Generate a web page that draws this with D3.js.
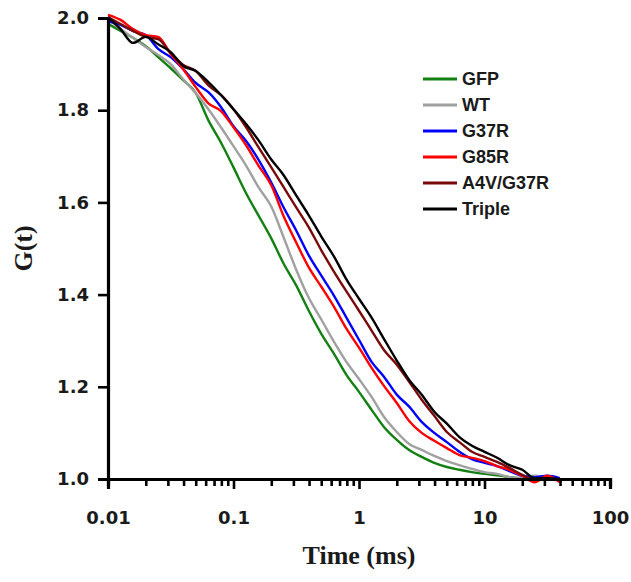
<!DOCTYPE html>
<html>
<head>
<meta charset="utf-8">
<script src="https://cdn.jsdelivr.net/npm/d3@7/dist/d3.min.js"></script>
<style>
  html, body { margin: 0; padding: 0; background: #fff; }
  svg { display: block; }
</style>
</head>
<body>
<svg id="chart" width="631" height="582"></svg>
<script>
// ---- Data ----
const times = [0.01, 0.0126, 0.0158, 0.02, 0.0251, 0.0316, 0.0398, 0.0501, 0.0631, 0.0794,
  0.1, 0.126, 0.158, 0.2, 0.251, 0.316, 0.398, 0.501, 0.631, 0.794,
  1, 1.26, 1.58, 2, 2.51, 3.16, 3.98, 5.01, 6.31, 7.94,
  10, 12.6, 15.8, 20, 25.1, 31.6, 39.8];

const seriesNames = ["GFP", "WT", "G37R", "G85R", "A4V/G37R", "Triple"];
const seriesColors = ["#138013", "#a0a0a0", "#0000ff", "#ff0000", "#7a0a0a", "#000000"];

const gfp = [1.987, 1.972, 1.957, 1.939, 1.915, 1.891, 1.865, 1.837, 1.778, 1.730,
  1.676, 1.620, 1.572, 1.522, 1.467, 1.420, 1.365, 1.315, 1.272, 1.226,
  1.189, 1.150, 1.113, 1.085, 1.063, 1.048, 1.035, 1.026, 1.020, 1.015,
  1.011, 1.008, 1.004, 1.002, 1.001, 1.000, 1.000];
const wt = [1.998, 1.976, 1.957, 1.937, 1.920, 1.900, 1.867, 1.837, 1.802, 1.763,
  1.722, 1.680, 1.633, 1.591, 1.524, 1.454, 1.393, 1.346, 1.298, 1.254,
  1.217, 1.178, 1.135, 1.102, 1.076, 1.063, 1.050, 1.039, 1.030, 1.022,
  1.015, 1.011, 1.004, 1.002, 1.007, 1.002, 1.000];
const g37r = [1.993, 1.985, 1.972, 1.963, 1.933, 1.915, 1.889, 1.859, 1.839, 1.807,
  1.765, 1.733, 1.693, 1.643, 1.589, 1.539, 1.485, 1.441, 1.398, 1.350,
  1.302, 1.254, 1.222, 1.183, 1.157, 1.124, 1.100, 1.080, 1.059, 1.043,
  1.035, 1.028, 1.017, 1.007, 1.004, 1.007, 1.002];
const g85r = [2.007, 1.996, 1.976, 1.963, 1.959, 1.922, 1.889, 1.850, 1.815, 1.798,
  1.763, 1.724, 1.680, 1.637, 1.570, 1.513, 1.459, 1.417, 1.374, 1.326,
  1.285, 1.241, 1.202, 1.165, 1.126, 1.100, 1.083, 1.067, 1.052, 1.046,
  1.039, 1.028, 1.020, 1.007, 0.993, 1.007, 0.993];
const a4vg37r = [2.002, 1.987, 1.972, 1.959, 1.954, 1.924, 1.898, 1.885, 1.854, 1.833,
  1.802, 1.763, 1.720, 1.676, 1.633, 1.589, 1.546, 1.496, 1.450, 1.407,
  1.365, 1.322, 1.280, 1.248, 1.211, 1.172, 1.137, 1.102, 1.080, 1.059,
  1.048, 1.037, 1.024, 1.009, 0.998, 1.002, 0.998];
const triple = [2.002, 1.976, 1.946, 1.959, 1.943, 1.926, 1.896, 1.885, 1.861, 1.833,
  1.802, 1.770, 1.735, 1.693, 1.659, 1.615, 1.572, 1.526, 1.483, 1.433,
  1.391, 1.350, 1.304, 1.257, 1.215, 1.183, 1.146, 1.120, 1.091, 1.072,
  1.059, 1.046, 1.030, 1.020, 1.002, 1.002, 1.000];

const seriesValues = [gfp, wt, g37r, g85r, a4vg37r, triple];

const xTickValues = [0.01, 0.1, 1, 10, 100];
const xTickLabels = ["0.01", "0.1", "1", "10", "100"];
const yTickValues = [1.0, 1.2, 1.4, 1.6, 1.8, 2.0];
const yTickLabels = ["1.0", "1.2", "1.4", "1.6", "1.8", "2.0"];

const xTitle = "Time (ms)";
const yTitle = "G(t)";

// ---- Layout ----
const svg = d3.select("#chart");
const mLeft = 108, mRight = 610, mTop = 18, mBottom = 479;

const x = d3.scaleLog().domain([0.01, 100]).range([mLeft, mRight]);
const y = d3.scaleLinear().domain([1, 2]).range([mBottom, mTop]);

// minor ticks
const minorTicks = [];
[0.01, 0.1, 1, 10].forEach(d => { for (let i = 2; i <= 9; i++) minorTicks.push(+(d * i).toPrecision(3)); });

// ---- Series ----
const line = d3.line()
  .x(d => x(d[0]))
  .y(d => y(d[1]))
  .curve(d3.curveMonotoneX);

const gSeries = svg.append("g");
seriesValues.forEach((vals, i) => {
  gSeries.append("path")
    .datum(times.map((t, j) => [t, vals[j]]))
    .attr("d", line)
    .attr("fill", "none")
    .attr("stroke", seriesColors[i])
    .attr("stroke-width", 2.4)
    .attr("stroke-linejoin", "round");
});

// ---- Axes ----
const tickFont = "'DejaVu Sans', sans-serif";

const xAxisMinor = d3.axisBottom(x).tickValues(minorTicks).tickSize(7).tickFormat("");
const xAxisMajor = d3.axisBottom(x).tickValues(xTickValues).tickSize(10)
  .tickFormat((d, i) => xTickLabels[i]).tickPadding(22);

const gxMinor = svg.append("g").attr("transform", `translate(0,${mBottom})`).call(xAxisMinor);
const gx = svg.append("g").attr("transform", `translate(0,${mBottom})`).call(xAxisMajor);
[gxMinor, gx].forEach(g => {
  g.select(".domain").attr("stroke", "#000").attr("stroke-width", 3.2);
  g.selectAll(".tick line").attr("stroke", "#000").attr("stroke-width", 2.6);
});
gx.selectAll(".tick text")
  .attr("fill", "#1a1a1a")
  .style("font-family", tickFont)
  .style("font-weight", "bold")
  .style("font-size", "18px");

const yAxis = d3.axisLeft(y).tickValues(yTickValues).tickSize(10)
  .tickFormat((d, i) => yTickLabels[i]).tickPadding(9);
const gy = svg.append("g").attr("transform", `translate(${mLeft},0)`).call(yAxis);
gy.select(".domain").attr("stroke", "#000").attr("stroke-width", 3.2);
gy.selectAll(".tick line").attr("stroke", "#000").attr("stroke-width", 2.6);
gy.selectAll(".tick text")
  .attr("fill", "#1a1a1a")
  .style("font-family", tickFont)
  .style("font-weight", "bold")
  .style("font-size", "18px");

// ---- Titles ----
svg.append("text")
  .attr("x", (mLeft + mRight) / 2)
  .attr("y", 564)
  .attr("text-anchor", "middle")
  .style("font-family", "'Liberation Serif', 'Times New Roman', serif")
  .style("font-weight", "bold")
  .style("font-size", "26px")
  .attr("fill", "#1a1a1a")
  .text(xTitle);

svg.append("text")
  .attr("transform", `translate(32,${(mTop + mBottom) / 2}) rotate(-90)`)
  .attr("text-anchor", "middle")
  .style("font-family", "'Liberation Serif', 'Times New Roman', serif")
  .style("font-weight", "bold")
  .style("font-size", "26px")
  .attr("fill", "#1a1a1a")
  .text(yTitle);

// ---- Legend ----
const legend = svg.append("g");
seriesNames.forEach((name, i) => {
  const cy = 79 + i * 26;
  legend.append("line")
    .attr("x1", 423).attr("x2", 457)
    .attr("y1", cy).attr("y2", cy)
    .attr("stroke", seriesColors[i])
    .attr("stroke-width", 3);
  legend.append("text")
    .attr("x", 462).attr("y", cy)
    .attr("dy", "0.35em")
    .style("font-family", "'Liberation Sans', Arial, sans-serif")
    .style("font-weight", "bold")
    .style("font-size", "18px")
    .attr("fill", "#1a1a1a")
    .text(name);
});
</script>
</body>
</html>
